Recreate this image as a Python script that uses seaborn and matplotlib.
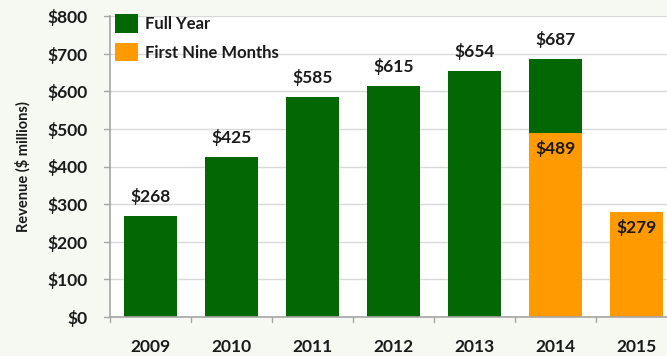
import matplotlib
matplotlib.use("Agg")
import matplotlib.pyplot as plt
from matplotlib.patches import Patch
import seaborn as sns
import pandas as pd
import numpy as np

years = ["2009", "2010", "2011", "2012", "2013", "2014", "2015"]
full_year = [268, 425, 585, 615, 654, 687, np.nan]
nine_months = [np.nan, np.nan, np.nan, np.nan, np.nan, 489, 279]
yticks = [0, 100, 200, 300, 400, 500, 600, 700, 800]
legend_labels = ["Full Year", "First Nine Months"]
ylabel = "Revenue ($ millions)"

GREEN = "#036803"
ORANGE = "#ff9a00"
TXT = "#1a1a1a"

sns.set_theme(style="white")
plt.rcParams["font.family"] = ["Lato", "DejaVu Sans"]
plt.rcParams["font.weight"] = "bold"

df = pd.DataFrame({"year": years, "full": full_year, "nine": nine_months})

fig = plt.figure(figsize=(6.67, 3.56), dpi=100, facecolor="#f6f9f2")
ax = fig.add_axes([110 / 667, 39 / 356, 567 / 667, 301 / 356])
ax.set_facecolor("white")

sns.barplot(data=df, x="year", y="full", order=years, color=GREEN,
            width=0.655, saturation=1, ax=ax, zorder=3, linewidth=0, edgecolor="none")
sns.barplot(data=df, x="year", y="nine", order=years, color=ORANGE,
            width=0.655, saturation=1, ax=ax, zorder=4, linewidth=0, edgecolor="none")

ax.set_xlim(-0.5, 6.5)
ax.set_ylim(0, 800)
ax.set_yticks(yticks)
ax.set_yticklabels([f"${v}" for v in yticks], fontsize=12.5, color=TXT, fontweight="bold")
ax.set_xticks(range(len(years)))
ax.set_xticklabels(years, fontsize=12.5, color=TXT, fontweight="bold")
ax.tick_params(axis="x", length=0, pad=16)
ax.tick_params(axis="y", length=0, pad=16)

# category boundary ticks
for b in np.arange(-0.5, 7, 1.0):
    ax.plot([b, b], [0, -12], color="#a6a6a6", lw=1, clip_on=False, zorder=2)
for v in yticks:
    ax.plot([-0.5 - 0.07, -0.5], [v, v], color="#a6a6a6", lw=1, clip_on=False, zorder=2)

ax.grid(axis="y", color="#d9d9d9", lw=1, zorder=0)
ax.set_axisbelow(True)
for s in ["top", "right"]:
    ax.spines[s].set_visible(False)
for s in ["left", "bottom"]:
    ax.spines[s].set_color("#a6a6a6")
    ax.spines[s].set_linewidth(1.2)
    ax.spines[s].set_zorder(5)

ax.set_xlabel("")
ax.set_ylabel(ylabel, fontsize=10.5, color=TXT, fontweight="bold", labelpad=10)
ax.yaxis.set_label_coords(-0.14, 0.5)

# value labels
for i, v in enumerate(full_year):
    if not np.isnan(v):
        ax.annotate(f"${int(v)}", (i, v), xytext=(0, 14), textcoords="offset points",
                    ha="center", va="center", fontsize=12.5, color=TXT, fontweight="bold")
for i, v in enumerate(nine_months):
    if not np.isnan(v):
        ax.annotate(f"${int(v)}", (i, v), xytext=(0, -11), textcoords="offset points",
                    ha="center", va="center", fontsize=12.5, color=TXT, fontweight="bold",
                    zorder=6)

handles = [Patch(facecolor=GREEN, edgecolor="none"), Patch(facecolor=ORANGE, edgecolor="none")]
leg = fig.legend(handles, legend_labels, loc="upper left",
                 bbox_to_anchor=(115 / 667, 1 - 14 / 356), bbox_transform=fig.transFigure,
                 frameon=False, fontsize=12, handlelength=1.35, handleheight=1.35,
                 handletextpad=0.45, labelspacing=0.6, borderpad=0, borderaxespad=0)
for t in leg.get_texts():
    t.set_color(TXT)
    t.set_fontweight("bold")

fig.savefig("out.png", dpi=100, facecolor=fig.get_facecolor())
